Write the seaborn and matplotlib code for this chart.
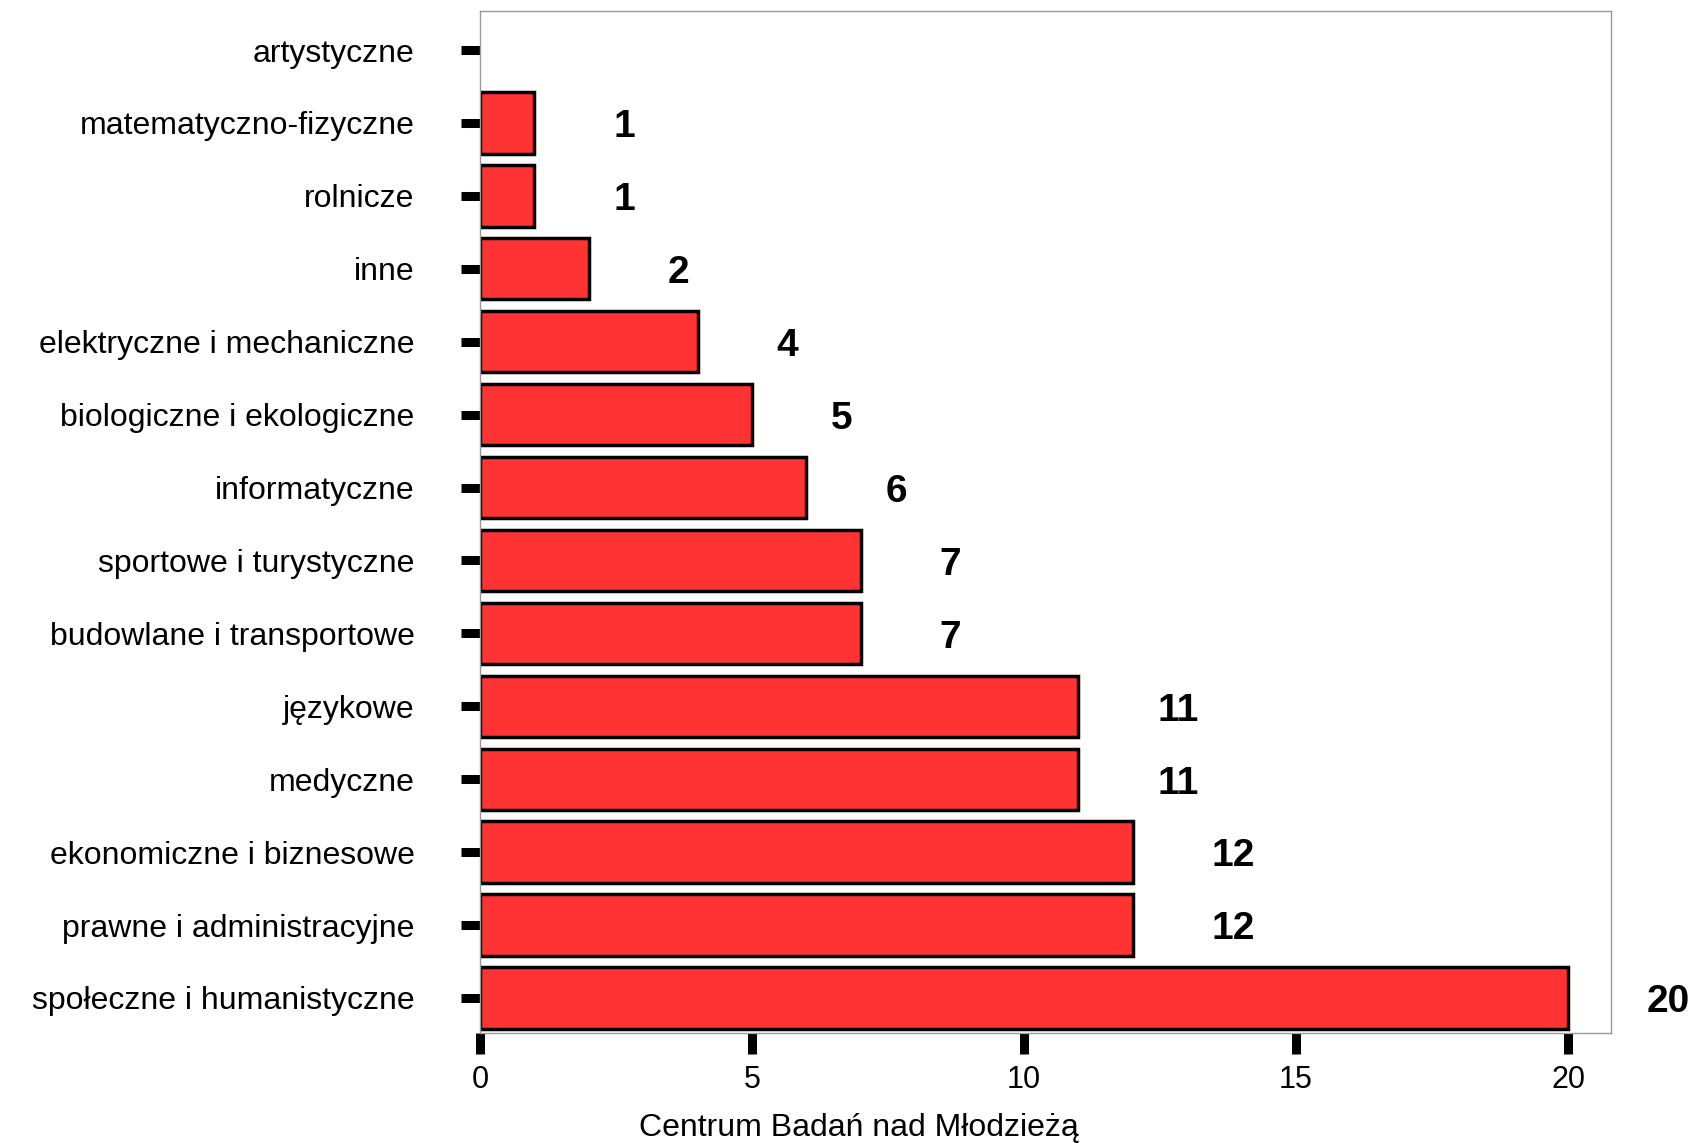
import matplotlib
matplotlib.use('Agg')
import matplotlib.pyplot as plt
import seaborn as sns

categories = ['artystyczne', 'matematyczno-fizyczne', 'rolnicze', 'inne',
              'elektryczne i mechaniczne', 'biologiczne i ekologiczne',
              'informatyczne', 'sportowe i turystyczne', 'budowlane i transportowe',
              'językowe', 'medyczne', 'ekonomiczne i biznesowe',
              'prawne i administracyjne', 'społeczne i humanistyczne']
counts = [0, 1, 1, 2, 4, 5, 6, 7, 7, 11, 11, 12, 12, 20]
x_ticks = [0, 5, 10, 15, 20]
x_title = 'Centrum Badań nad Młodzieżą'

sns.set_style('white')
plt.rcParams['font.family'] = ['Liberation Sans', 'DejaVu Sans']
plt.rcParams['text.color'] = 'black'
plt.rcParams['axes.labelcolor'] = 'black'
plt.rcParams['xtick.color'] = 'black'
plt.rcParams['ytick.color'] = 'black'

fig = plt.figure(figsize=(16.99, 11.43), dpi=100)
ax = fig.add_axes([0.2825, 0.0963, 0.6657, 0.8937])

sns.barplot(x=counts, y=categories, orient='h', color='#ff3333', saturation=1,
            edgecolor='black', linewidth=2.5, width=0.84, ax=ax)

# empty category: no bar outline, no label
for patch, c in zip(ax.patches, counts):
    if c == 0:
        patch.set_visible(False)

for i, c in enumerate(counts):
    if c > 0:
        ax.text(c + 1.45, i + 0.06, str(c), ha='left', va='center',
                fontsize=28, fontweight='bold', color='black', clip_on=False)

ax.set_xlim(0, 20.79)
ax.set_ylim(13.48, -0.53)
ax.set_xticks(x_ticks)
ax.set_xlabel(x_title, fontsize=23)
ax.xaxis.set_label_coords(0.335, -0.078)
ax.set_ylabel('')

ax.tick_params(axis='x', direction='out', length=15, width=6.5, color='black',
               labelsize=22, pad=8, bottom=True)
ax.tick_params(axis='y', direction='out', length=14, width=6.5, color='black',
               labelsize=23, pad=33, left=True)

for sp in ax.spines.values():
    sp.set_color('#999999')
    sp.set_linewidth(1)

fig.savefig('out.png', dpi=100)
